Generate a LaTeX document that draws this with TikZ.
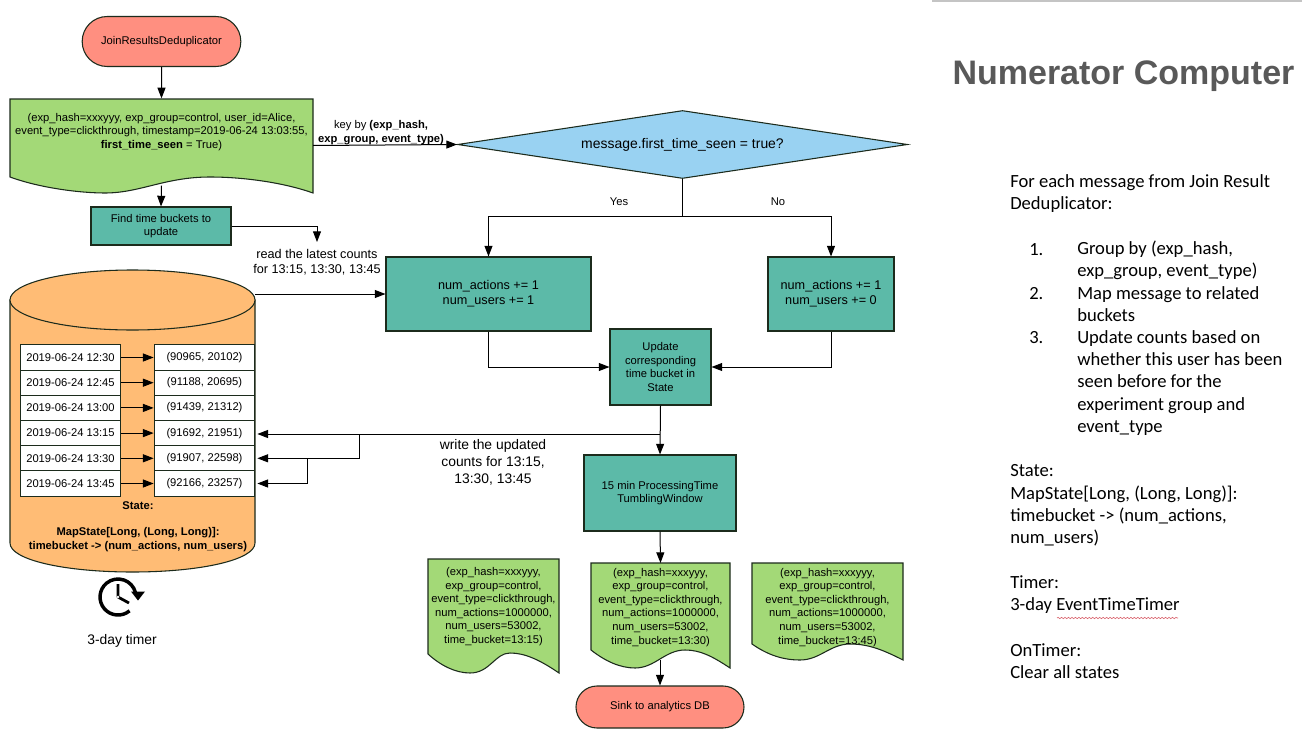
\documentclass[tikz,border=0pt]{standalone}
\usepackage{fontspec}
\setmainfont{Liberation Sans}
\newfontfamily\bodyfont{Carlito}
\usetikzlibrary{arrows.meta,shapes.geometric,shapes.misc,decorations.pathmorphing}
\definecolor{termred}{HTML}{FF8F80}
\definecolor{docgreen}{HTML}{A3D977}
\definecolor{procteal}{HTML}{5CBAA8}
\definecolor{decblue}{HTML}{99D2F2}
\definecolor{cylorange}{HTML}{FFBC75}
\definecolor{edgeink}{HTML}{1C2B1C}
\definecolor{titlegray}{HTML}{595959}
\definecolor{rulegray}{HTML}{C4C4C4}
\definecolor{spellred}{HTML}{D9606A}
\newcommand{\smalltext}{\fontsize{8.4}{10.2}\selectfont}
\newcommand{\labeltext}{\fontsize{9.5}{11.4}\selectfont}
\newcommand{\writetext}{\fontsize{10.4}{12.75}\selectfont}
\newcommand{\proctext}{\fontsize{9.5}{11.2}\selectfont}
\newcommand{\sidetext}{\bodyfont\fontsize{13.95}{16.72}\selectfont}
\tikzset{
  x=0.75pt,y=-0.75pt,
  shape outline/.style={draw=edgeink,line width=0.8pt},
  conn/.style={draw=black,line width=0.75pt,-{Triangle[length=8pt,width=6pt]}},
  plainconn/.style={draw=black,line width=0.75pt},
  terminal/.style={shape outline,fill=termred,rounded rectangle,font=\smalltext,inner sep=0pt},
  procbox/.style={shape outline,fill=procteal,rectangle,font=\smalltext,align=center,inner sep=0pt},
  decbox/.style={shape outline,fill=decblue,diamond,aspect=6.6,inner sep=0pt,font=\fontsize{10.45}{12}\selectfont},
  docfill/.style={shape outline,fill=docgreen},
  doctext/.style={font=\smalltext,align=center,inner sep=0pt},
  cellbox/.style={shape outline,fill=white,rectangle,font=\smalltext,inner sep=0pt,minimum width=75.5pt,minimum height=18.9pt},
  edgelabel/.style={font=\labeltext,align=center,inner sep=0pt},
  sideblock/.style={anchor=north west,inner sep=0pt,align=left,font=\sidetext,text=black},
}
\begin{document}
\begin{tikzpicture}
\useasboundingbox (0,0) rectangle (1302,735);
\fill[white] (0,0) rectangle (1302,735);
\fill[rulegray] (932,0) rectangle (1302,2);

% document outlines
\path[docfill] (10,99) -- (313,99) -- (313,193) .. controls (285,183) and (245,177) .. (210,177) .. controls (165,177) and (140,193) .. (105,193) .. controls (80,193) and (40,188) .. (10,177) -- cycle;
\path[docfill] (428,559) -- (559,559) -- (559,673) .. controls (540,660) and (525,653) .. (510,653) .. controls (495,653) and (490,673) .. (470,673) .. controls (455,673) and (440,665) .. (428,654) -- cycle;
\path[docfill] (591,563) -- (730,563) -- (730,668) .. controls (712,656) and (700,650) .. (685,650) .. controls (665,650) and (655,668) .. (635,668) .. controls (620,668) and (605,661) .. (591,650) -- cycle;
\path[docfill] (752,563) -- (903,563) -- (903,660) .. controls (885,651) and (870,644) .. (850,644) .. controls (830,644) and (820,660) .. (800,660) .. controls (780,660) and (765,653) .. (752,644) -- cycle;

% cylinder
\path[shape outline,fill=cylorange] (10,300) -- (10,543) .. controls (10,560) and (65,572) .. (132.5,572) .. controls (200,572) and (255,560) .. (255,543) -- (255,300) -- cycle;
\path[shape outline,fill=cylorange] (10,300) .. controls (10,283) and (65,270) .. (132.5,270) .. controls (200,270) and (255,283) .. (255,300) .. controls (255,317) and (200,330) .. (132.5,330) .. controls (65,330) and (10,317) .. (10,300) -- cycle;
\node[inner sep=0pt,minimum width=183.75pt,minimum height=226.5pt] (cyl) at (132.5,421) {};

% nodes
\node[terminal,minimum width=119pt,minimum height=37.5pt] (start) at (161.5,41.5) {JoinResultsDeduplicator};
\node[doctext,minimum width=227pt,minimum height=65pt] (doc1) at (161.5,142) {};
\node[doctext] (doc1t) at (161.5,132) {(exp\_hash=xxxyyy, exp\_group=control, user\_id=Alice,\\event\_type=clickthrough, timestamp=2019-06-24 13:03:55,\\\textbf{first\_time\_seen} = True)};
\node[procbox,minimum width=105pt,minimum height=28.5pt] (find) at (161,226) {Find time buckets to\\update};
\coordinate (readend) at (317,242);
\node[edgelabel] (readlbl) at (317,262.5) {read the latest counts\\for 13:15, 13:30, 13:45};
\node[font=\smalltext,align=center,inner sep=0pt] (keylbl) at (381,132.5) {key by \textbf{(exp\_hash,}\\\textbf{exp\_group, event\_type)}};
\node[decbox,minimum width=337.5pt,minimum height=51pt] (dec) at (682.5,144.5) {\raisebox{-1.2pt}{message.first\_time\_seen = true?}};
\node[font=\smalltext,inner sep=0pt] (yes) at (619,201.5) {Yes};
\node[font=\smalltext,inner sep=0pt] (no) at (778,201.5) {No};
\path (dec.south |- 0,216) coordinate (fork);
\node[procbox,font=\proctext,minimum width=153.75pt,minimum height=55.5pt] (boxa) at (488.5,294) {\raisebox{0.6pt}{num\_actions += 1}\\\raisebox{0.6pt}{num\_users += 1}};
\node[procbox,font=\proctext,minimum width=94.5pt,minimum height=55.5pt] (boxb) at (831,294) {\raisebox{0.6pt}{num\_actions += 1}\\\raisebox{0.6pt}{num\_users += 0}};
\node[procbox,minimum width=75.75pt,minimum height=57pt] (boxc) at (660.5,367) {Update\\corresponding\\time bucket in\\State};
\node[procbox,minimum width=114pt,minimum height=57pt] (boxd) at (660,493) {15 min ProcessingTime\\TumblingWindow};
\node[terminal,minimum width=126pt,minimum height=31.5pt] (sink) at (660,707) {Sink to analytics DB};

\node[edgelabel,font=\writetext] (writelbl) at (493,462) {write the updated\\counts for 13:15,\\13:30, 13:45};

\node[cellbox] (tl1) at (70.5,357.5) {2019-06-24 12:30};
\node[cellbox] (tl2) at (70.5,382.7) {2019-06-24 12:45};
\node[cellbox] (tl3) at (70.5,407.9) {2019-06-24 13:00};
\node[cellbox] (tl4) at (70.5,433.1) {2019-06-24 13:15};
\node[cellbox] (tl5) at (70.5,458.3) {2019-06-24 13:30};
\node[cellbox] (tl6) at (70.5,483.5) {2019-06-24 13:45};
\node[cellbox] (tr1) at (204.5,357.5) {(90965, 20102)};
\node[cellbox] (tr2) at (204.5,382.7) {(91188, 20695)};
\node[cellbox] (tr3) at (204.5,407.9) {(91439, 21312)};
\node[cellbox] (tr4) at (204.5,433.1) {(91692, 21951)};
\node[cellbox] (tr5) at (204.5,458.3) {(91907, 22598)};
\node[cellbox] (tr6) at (204.5,483.5) {(92166, 23257)};
\node[font=\smalltext\bfseries,inner sep=0pt] (statet) at (138,505.5) {State:};
\node[font=\smalltext\bfseries,align=center,inner sep=0pt] (mapt) at (138,539.5) {MapState[Long, (Long, Long)]:\\timebucket -> (num\_actions, num\_users)};

\node[doctext,minimum width=98pt,minimum height=71pt] (docl) at (493.5,606.5) {(exp\_hash=xxxyyy,\\exp\_group=control,\\event\_type=clickthrough,\\num\_actions=1000000,\\num\_users=53002,\\time\_bucket=13:15)};
\node[doctext,minimum width=104pt,minimum height=71pt] (docm) at (660.5,607.2) {(exp\_hash=xxxyyy,\\exp\_group=control,\\event\_type=clickthrough,\\num\_actions=1000000,\\num\_users=53002,\\time\_bucket=13:30)};
\node[doctext,minimum width=113pt,minimum height=71pt] (docr) at (827.5,607.2) {(exp\_hash=xxxyyy,\\exp\_group=control,\\event\_type=clickthrough,\\num\_actions=1000000,\\num\_users=53002,\\time\_bucket=13:45)};
\coordinate (docmbot) at (660,660);

% connectors
\draw[conn] (start) -- (start |- doc1.north);
\draw[conn] (doc1.south) -- (find.north);
\draw[conn] (find.east) -| (readend);
\coordinate (keyst) at (313,145.5);
\draw[conn] (keyst) -- (dec.west);
\draw[plainconn] (dec.south) -- (fork);
\draw[conn] (fork) -| (boxa.north);
\draw[conn] (fork) -| (boxb.north);
\draw[conn] (cyl.east |- boxa.west) -- (boxa.west);
\draw[conn] (boxa.south) |- (boxc.west);
\draw[conn] (boxb.south) |- (boxc.east);
\draw[conn] (boxc.south) -- (boxd.north);
\coordinate (wj) at (660,434);
\coordinate (wa) at (359,434);
\coordinate (wb) at (307,458.3);
\draw[conn,shorten >=1.5pt] (wj) -- (tr4.east |- wj);
\draw[conn,shorten >=1.5pt] (wa) |- (tr5.east);
\draw[conn,shorten >=1.5pt] (wb) |- (tr6.east);
\foreach \r in {1,...,6}{\draw[conn] (tl\r) -- (tr\r);}
\draw[conn] (boxd.south) -- (docm.north |- 660,563);
\draw[conn] (docmbot) -- (sink.north);

% clock
\coordinate (clockc) at (118,597);
\draw[line width=2.6pt,line cap=butt] (129.6,610.8) arc[start angle=-50,end angle=-345,radius=13.5pt];
\fill (131,591.5) -- (145,591.5) -- (138,600.5) -- cycle;
\draw[line width=2.1pt,line join=round] (118,584) -- (118,597) -- (129,603);
\fill[white] (118,597) circle[radius=1pt];
\node[font=\writetext,inner sep=0pt] (timerlbl) at (122,640.5) {3-day timer};

% right column
\node[font=\fontsize{25.5}{30}\selectfont\bfseries,text=titlegray,inner sep=0pt] (title) at (1123.5,76) {Numerator Computer};
\node[sideblock] (intro) at (1010,174.5) {For each message from Join Result\\Deduplicator:};
\node[sideblock] (n1) at (1029,242.8) {1.};
\node[sideblock] (i1) at (1077,240.5) {Group by (exp\_hash,\\exp\_group, event\_type)};
\node[sideblock] (n2) at (1029,287.3) {2.};
\node[sideblock] (i2) at (1077,286) {Map message to related\\buckets};
\node[sideblock] (n3) at (1029,331.5) {3.};
\node[sideblock] (i3) at (1077,330) {Update counts based on\\whether this user has been\\seen before for the\\experiment group and\\event\_type};
\node[sideblock] (stateb) at (1010,464.5) {State:\\MapState[Long, (Long, Long)]:\\timebucket -> (num\_actions,\\num\_users)};
\node[sideblock] (timerb) at (1010,575.5) {Timer:\\3-day EventTimeTimer};
\node[sideblock] (ontimerb) at (1010,643.5) {OnTimer:\\Clear all states};
\draw[spellred,line width=0.45pt,decorate,decoration={snake,amplitude=0.5pt,segment length=2.6pt}] (1057,618) -- (1178,618);
\end{tikzpicture}
\end{document}
